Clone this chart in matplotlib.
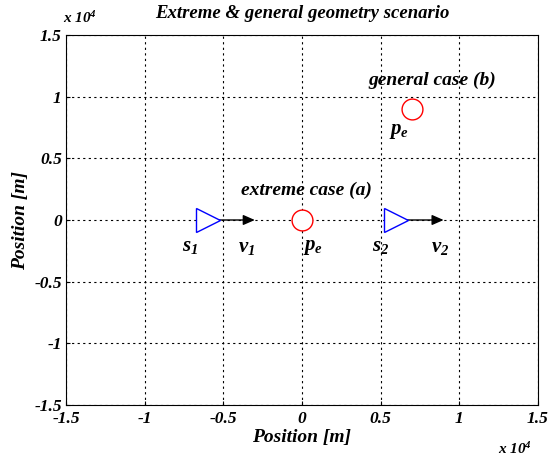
import matplotlib
matplotlib.use("Agg")
import matplotlib.pyplot as plt

plt.rcParams['font.family'] = 'Liberation Serif'
plt.rcParams['font.weight'] = 'bold'
plt.rcParams['font.style'] = 'italic'
plt.rcParams['axes.titleweight'] = 'bold'
plt.rcParams['axes.labelweight'] = 'bold'
plt.rcParams['mathtext.fontset'] = 'custom'
plt.rcParams['mathtext.rm'] = 'Liberation Serif:italic:bold'
plt.rcParams['mathtext.it'] = 'Liberation Serif:italic:bold'
plt.rcParams['mathtext.bf'] = 'Liberation Serif:italic:bold'

# Sensor positions and velocity-arrow ends (m)
sensor_x = [-6000, 6000]
sensor_y = [0, 0]
velocity_end_x = [-3000, 9000]

# Emitter positions: extreme case (a) and general case (b)
emitter_x = [0, 7000]
emitter_y = [0, 9000]

tick_vals = [-15000, -10000, -5000, 0, 5000, 10000, 15000]
tick_labels = ['-1.5', '-1', '-0.5', '0', '0.5', '1', '1.5']

fig = plt.figure(figsize=(5.48, 4.62), dpi=100)
ax = fig.add_axes([66 / 548, 1 - 405 / 462, (538 - 66) / 548, (405 - 35) / 462])

ax.set_xlim(-15000, 15000)
ax.set_ylim(-15000, 15000)
ax.set_xticks(tick_vals)
ax.set_xticklabels(tick_labels)
ax.set_yticks(tick_vals)
ax.set_yticklabels(tick_labels)
ax.tick_params(direction='in', length=3, labelsize=12.5)
ax.tick_params(axis='x', pad=4)
ax.tick_params(axis='y', pad=3)
for t in ax.get_xticklabels() + ax.get_yticklabels():
    t.set_fontweight('bold')
    t.set_fontstyle('italic')
ax.grid(True, color='black', linestyle=(0, (2, 3)), linewidth=0.8)

# velocity arrows
for x0, y0, x1 in zip(sensor_x, sensor_y, velocity_end_x):
    ax.annotate('', xy=(x1, y0), xytext=(x0, y0),
                arrowprops=dict(arrowstyle='-|>,head_length=0.5,head_width=0.22',
                                color='black', lw=1.0,
                                mutation_scale=14, shrinkA=0, shrinkB=0),
                zorder=3)

ax.plot(sensor_x, sensor_y, linestyle='none', marker='>', markersize=17,
        markerfacecolor='white', markeredgecolor='blue', markeredgewidth=1.0, zorder=4)
ax.plot(emitter_x, emitter_y, linestyle='none', marker='o', markersize=15,
        markerfacecolor='white', markeredgecolor='red', markeredgewidth=1.0, zorder=4)

lab = dict(fontsize=15, ha='center', va='center')
ax.text(-7100, -2100, r'$s_1$', **lab)
ax.text(-3500, -2200, r'$v_1$', **lab)
ax.text(700, -2200, r'$p_e$', **lab)
ax.text(5000, -2100, r'$s_2$', **lab)
ax.text(8800, -2200, r'$v_2$', **lab)
ax.text(6200, 7200, r'$p_e$', **lab)
ax.text(300, 2400, 'extreme case (a)', fontsize=14, ha='center', va='center')
ax.text(8300, 11300, 'general case (b)', fontsize=14, ha='center', va='center')

ax.set_title('Extreme & general geometry scenario', fontsize=13.5, pad=12)
ax.set_xlabel('Position [m]', fontsize=14, labelpad=2)
ax.set_ylabel('Position [m]', fontsize=14, labelpad=4)

# exponent markers for both axes
fig.text(63 / 548, 1 - 18 / 462, r'x 10$^4$', fontsize=11, ha='left', va='center')
fig.text(498 / 548, 1 - 449 / 462, r'x 10$^4$', fontsize=11, ha='left', va='center')

fig.savefig('out.png', dpi=100)
